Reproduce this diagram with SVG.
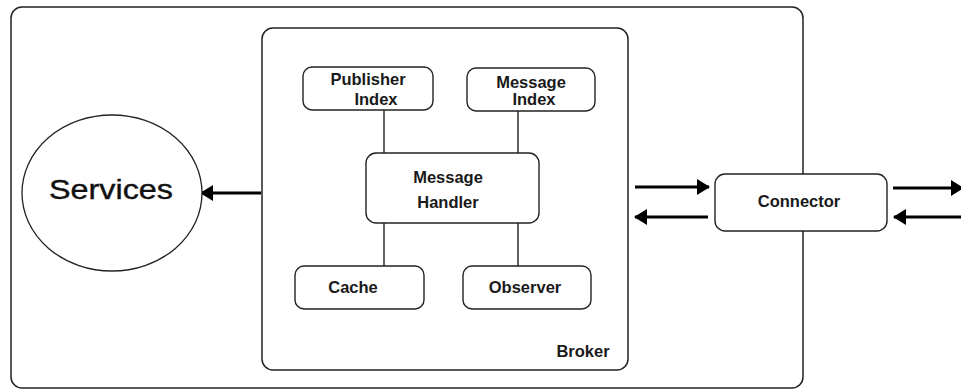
<svg xmlns="http://www.w3.org/2000/svg" width="961" height="390" viewBox="0 0 961 390">
<defs>
<style>
.box{fill:#fff;stroke:#222;stroke-width:1.4}
.frame{fill:none;stroke:#222;stroke-width:1.5}
.lbl{font-family:"Liberation Sans",Arial,sans-serif;font-weight:bold;font-size:16.5px;fill:#1a1a1a;text-anchor:middle}
.link{stroke:#222;stroke-width:1.4;fill:none}
.arr{stroke:#000;stroke-width:3;fill:none}
</style>
<marker id="ah" viewBox="0 0 13 16" refX="12" refY="8" markerWidth="13" markerHeight="16" markerUnits="userSpaceOnUse" orient="auto">
<path d="M0,0 L13,8 L0,16 Z" fill="#000"/>
</marker>
</defs>
<rect width="961" height="390" fill="#fff"/>
<g id="system">
<rect class="frame" x="11" y="7" width="792" height="381" rx="11"/>
</g>
<g id="broker">
<rect class="frame" x="262" y="28" width="366" height="342" rx="11"/>
<text class="lbl" x="583" y="357">Broker</text>
</g>
<g id="connectors">
<line class="link" x1="384" y1="110" x2="384" y2="153"/>
<line class="link" x1="518" y1="111" x2="518" y2="153"/>
<line class="link" x1="384" y1="223" x2="384" y2="266"/>
<line class="link" x1="518" y1="223" x2="518" y2="266"/>
<line class="arr" x1="261" y1="193" x2="201" y2="193" marker-end="url(#ah)"/>
<line class="arr" x1="635" y1="187" x2="709" y2="187" marker-end="url(#ah)"/>
<line class="arr" x1="708" y1="217" x2="635" y2="217" marker-end="url(#ah)"/>
<line class="arr" x1="893" y1="188" x2="963" y2="188" marker-end="url(#ah)"/>
<line class="arr" x1="961" y1="217" x2="894" y2="217" marker-end="url(#ah)"/>
</g>
<g id="services">
<ellipse cx="112" cy="193" rx="90" ry="78" fill="#fff" stroke="#222" stroke-width="1.3"/>
<text x="111" y="199" font-family="'Liberation Sans',Arial,sans-serif" font-size="27" fill="#111" stroke="#111" stroke-width="0.4" text-anchor="middle" textLength="124" lengthAdjust="spacingAndGlyphs">Services</text>
</g>
<g id="publisher-index">
<rect class="box" x="303" y="67" width="130" height="43" rx="9"/>
<text class="lbl" x="368" y="85">Publisher</text>
<text class="lbl" x="376" y="105">Index</text>
</g>
<g id="message-index">
<rect class="box" x="467" y="68" width="128" height="43" rx="9"/>
<text class="lbl" x="531" y="88">Message</text>
<text class="lbl" x="534" y="105">Index</text>
</g>
<g id="message-handler">
<rect class="box" x="366" y="153" width="173" height="70" rx="10"/>
<text class="lbl" x="448" y="183">Message</text>
<text class="lbl" x="448" y="208">Handler</text>
</g>
<g id="cache">
<rect class="box" x="295" y="266" width="129" height="43" rx="9"/>
<text class="lbl" x="353" y="293">Cache</text>
</g>
<g id="observer">
<rect class="box" x="463" y="266" width="128" height="43" rx="9"/>
<text class="lbl" x="525" y="293">Observer</text>
</g>
<g id="connector">
<rect class="box" x="715" y="174" width="172" height="57" rx="10"/>
<text class="lbl" x="799" y="207">Connector</text>
</g>
</svg>
